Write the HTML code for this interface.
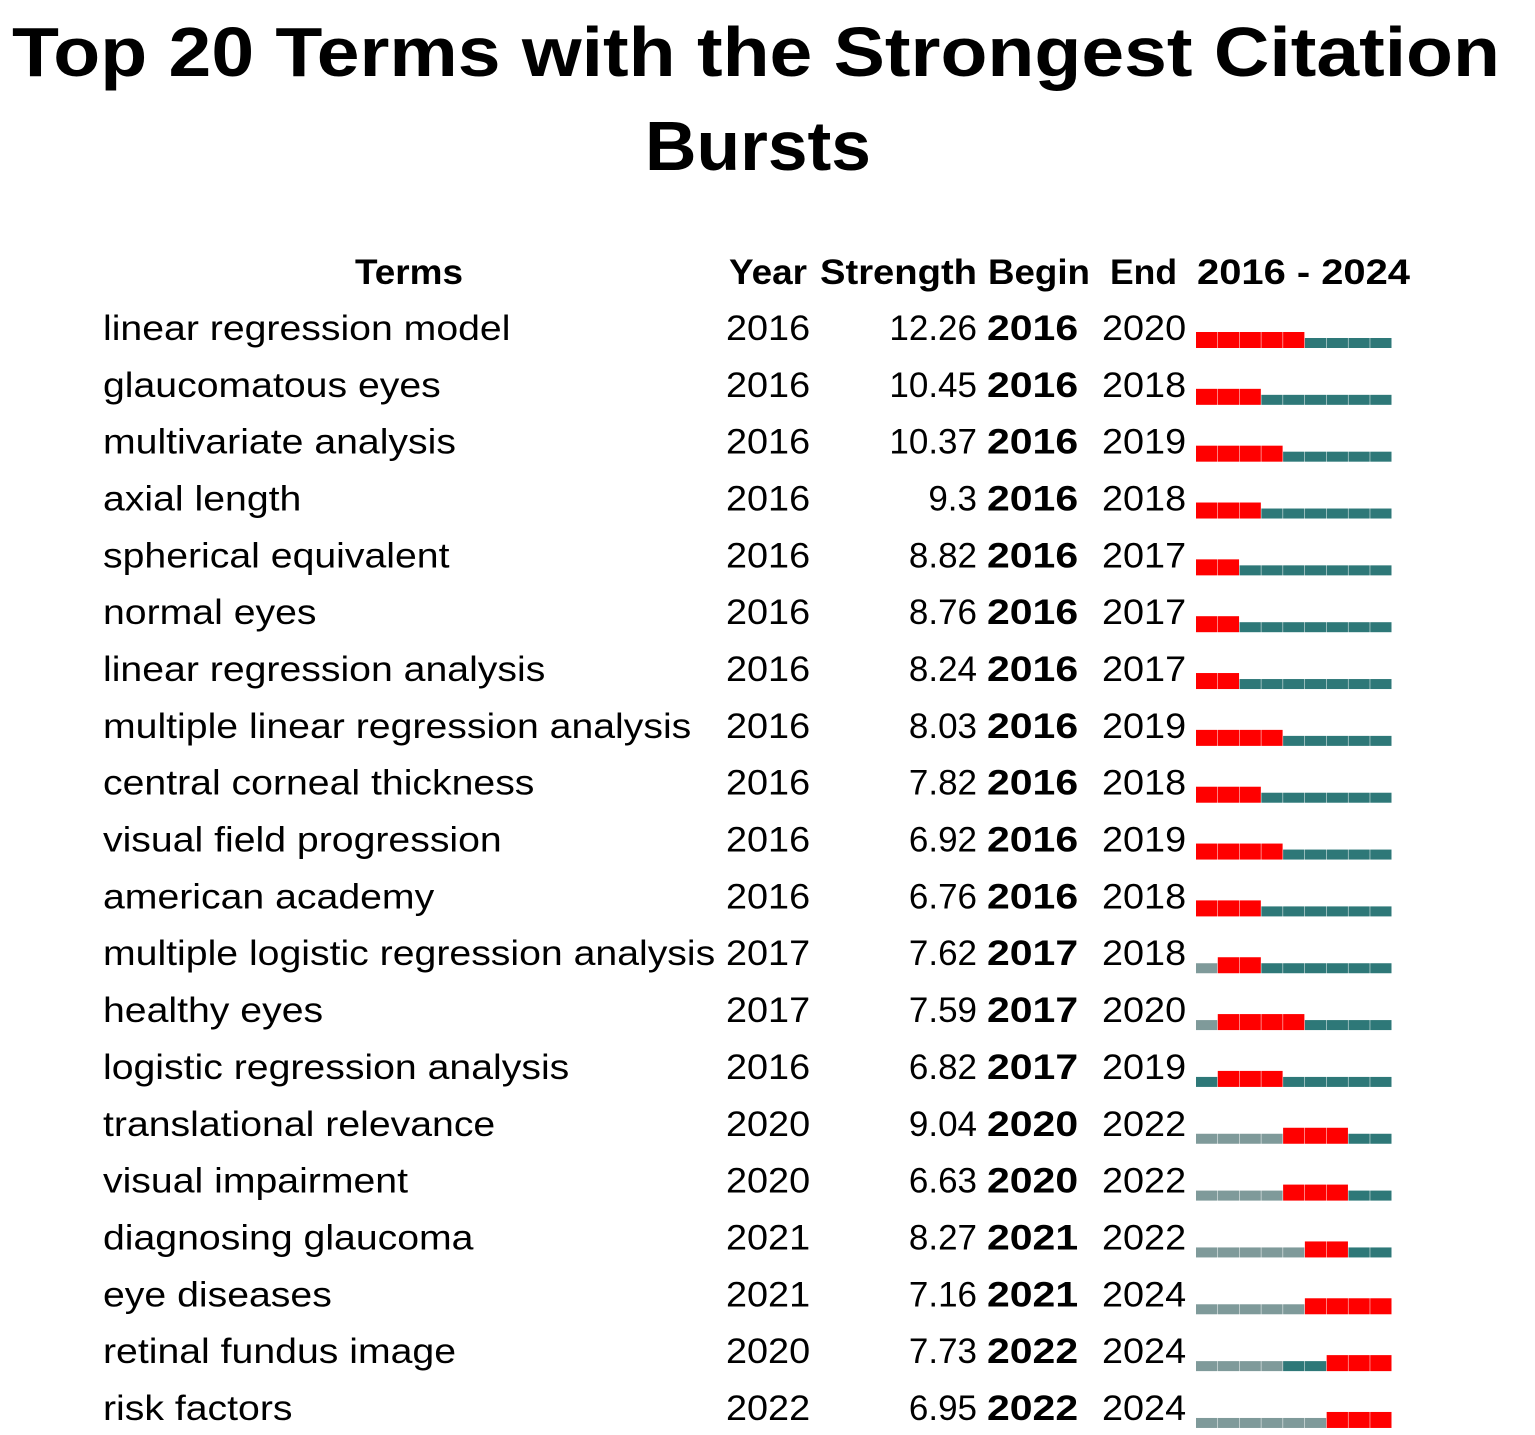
<!DOCTYPE html>
<html><head><meta charset="utf-8"><style>
html,body{margin:0;padding:0;background:#fff;}
svg{display:block;font-family:"Liberation Sans","DejaVu Sans",sans-serif;}
</style></head><body>
<svg id="chart" width="1535" height="1435" viewBox="0 0 1535 1435">
<text x="12" y="76" textLength="1488" lengthAdjust="spacingAndGlyphs" font-size="70" font-weight="bold" fill="#000">Top 20 Terms with the Strongest Citation</text>
<text x="645" y="170" textLength="226" lengthAdjust="spacingAndGlyphs" font-size="70" font-weight="bold" fill="#000">Bursts</text>
<g font-size="35" font-weight="bold" fill="#000">
<text x="355" y="284" textLength="108" lengthAdjust="spacingAndGlyphs">Terms</text>
<text x="729" y="284" textLength="78" lengthAdjust="spacingAndGlyphs">Year</text>
<text x="820" y="284" textLength="157" lengthAdjust="spacingAndGlyphs">Strength</text>
<text x="988" y="284" textLength="102" lengthAdjust="spacingAndGlyphs">Begin</text>
<text x="1110" y="284" textLength="67" lengthAdjust="spacingAndGlyphs">End</text>
<text x="1197" y="284" textLength="213" lengthAdjust="spacingAndGlyphs">2016 - 2024</text>
</g>
<g id="rows"></g>
</svg>
<script>
const terms=["linear regression model","glaucomatous eyes","multivariate analysis","axial length","spherical equivalent","normal eyes","linear regression analysis","multiple linear regression analysis","central corneal thickness","visual field progression","american academy","multiple logistic regression analysis","healthy eyes","logistic regression analysis","translational relevance","visual impairment","diagnosing glaucoma","eye diseases","retinal fundus image","risk factors"];
const years=[2016,2016,2016,2016,2016,2016,2016,2016,2016,2016,2016,2017,2017,2016,2020,2020,2021,2021,2020,2022];
const strengths=["12.26","10.45","10.37","9.3","8.82","8.76","8.24","8.03","7.82","6.92","6.76","7.62","7.59","6.82","9.04","6.63","8.27","7.16","7.73","6.95"];
const begins=[2016,2016,2016,2016,2016,2016,2016,2016,2016,2016,2016,2017,2017,2017,2020,2020,2021,2021,2022,2022];
const ends=[2020,2018,2019,2018,2017,2017,2017,2019,2018,2019,2018,2018,2020,2019,2022,2022,2022,2024,2024,2024];
const ns="http://www.w3.org/2000/svg";
const g=document.getElementById('rows');
const x0=1196,x1=1392,yStart=2016,yEnd=2024;
const yw=(x1-x0)/(yEnd-yStart+1);
const xs=y=>x0+(y-yStart)*yw;
function mk(tag,attrs,txt){const e=document.createElementNS(ns,tag);for(const k in attrs)e.setAttribute(k,attrs[k]);if(txt!==undefined)e.textContent=txt;return e;}
function stretch(el,f){const L=el.getComputedTextLength();el.setAttribute('textLength',L*f);el.setAttribute('lengthAdjust','spacingAndGlyphs');}
terms.forEach((t,i)=>{
 const cy=327+i*56.84, base=cy+13;
 const row=mk('g',{});
 
 
 g.appendChild(row);
 const tt=mk('text',{x:103,y:base,'font-size':35},t);
 
 
 row.appendChild(tt); stretch(tt,1.12);
 const ty=mk('text',{x:726,y:base,'font-size':35},String(years[i]));
 
 
 row.appendChild(ty); stretch(ty,1.08);
 const ts=mk('text',{x:977,y:base,'font-size':35,'text-anchor':'end'},strengths[i]);
 
 
 row.appendChild(ts);
 const tb=mk('text',{x:987,y:base,'font-size':35,'font-weight':'bold'},String(begins[i]));
 
 
 row.appendChild(tb); stretch(tb,1.17);
 const te=mk('text',{x:1102,y:base,'font-size':35},String(ends[i]));
 
 
 row.appendChild(te); stretch(te,1.08);
 const bb=cy+21;
 for(let y=yStart;y<=yEnd;y++){
  let col,h;
  if(y>=begins[i]&&y<=ends[i]){col='#ff0000';h=16;}
  else if(y<years[i]||(y<begins[i]&&years[i]<begins[i]-2)){col='#7f9a9a';h=10;}
  else {col='#2e7878';h=10;}
  if(y<begins[i]&&y<years[i]){col='#7f9a9a';}
  const r=mk('rect',{x:xs(y),y:bb-h,width:yw-0.5,height:h,fill:col});
  
  
  row.appendChild(r);
 }
});
</script>
</body></html>
